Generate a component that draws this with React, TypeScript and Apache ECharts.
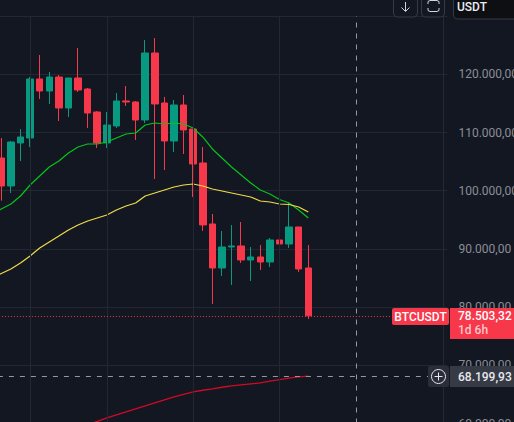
import React, { useEffect, useRef } from "react";
import * as echarts from "echarts";

const openPrices = [105621,100810,108198,109057,119193,117131,119536,114211,119365,117475,113523,108198,111118,115413,115241,112149,123660,115070,108541,114726,110603,104762,94282,86723,90330,90502,88097,88612,87753,91533,90846,93766,86723];
const closePrices = [100810,108370,109229,119193,117131,119536,114211,119365,117303,113352,108198,111290,115413,115241,112149,123660,114898,108541,114726,110431,104590,94110,86723,90330,90502,88097,88612,87753,91533,90846,93766,86551,78503.32];
const lowPrices = [98285,99608,105105,107510,115757,114898,111977,112664,116960,110775,107339,107339,110775,114554,108713,111634,102013,103559,106652,106308,98920,93079,80538,85348,83802,87582,84489,86379,86895,89300,90159,86036,77960];
const highPrices = [109057,108541,110603,119536,123316,120395,119880,119365,124519,117647,113695,113523,116788,117990,115413,125893,126237,116100,115585,116444,110603,107510,96000,93079,94110,94625,90330,90674,91876,94797,98061,93766,90674];

const maGreen = [95828,96859,97718,99092,100982,102528,104075,105105,106480,107510,108026,108026,108370,109057,109744,109916,111290,111634,111462,111634,111462,110775,109229,107167,105621,104075,102700,101326,100123,99436,98490,97890,96687,95313];
const maYellow = [85005,85778,86551,87582,88784,90159,91190,92220,93251,94110,94797,95313,95828,96687,97374,97890,99092,99608,100123,100639,100982,101154,100810,100295,99951,99608,99264,98920,98233,98061,97718,97632,97202,96343];
const maRed = ["-","-","-","-","-","-","-","-","-","-",59837,60350,60953,61468,61984,62499,63014,63530,64045,64560,64990,65419,65711,65935,66227,66450,66622,66794,66966,67275,67533,67791,68014,68134];

const categories = Array.from({ length: 48 }, (_, i) => "c" + i);
const monthLines = ["c4", "c12", "c21", "c30"];
const crosshairCategory = "c38";
const lastPrice = 78503.32;
const crosshairPrice = 68199.93;
const lastPriceText = "78.503,32";
const crosshairText = "68.199,93";
const countdownText = "1d 6h";
const symbolText = "BTCUSDT";
const quoteText = "USDT";

const FONT = "Roboto";
const UP = "#089981";
const DOWN = "#f7374a";
const BG = "#131722";
const GRID = "#232731";
const BLEED = 20;

function formatPrice(v: number) {
  if (v >= 130000) return "";
  const s = String(Math.round(v));
  return s.replace(/\B(?=(\d{3})+$)/g, ".") + ",00";
}

export default function App() {
  const ref = useRef<HTMLDivElement>(null);
  useEffect(() => {
    document.body.style.margin = "0";
    document.body.style.background = BG;
    const chart = echarts.init(ref.current!, null, { renderer: "svg" });
    const candles = [["-", "-", "-", "-"]].concat(
      openPrices.map((o, i) => [o, closePrices[i], lowPrices[i], highPrices[i]] as any)
    );
    const plainMark = { symbol: "none", silent: true, label: { show: false }, animation: false };
    chart.setOption({
      animation: false,
      backgroundColor: BG,
      grid: { left: BLEED - 13.1, top: 16.1, width: 460.5, height: 407.4 },
      xAxis: {
        type: "category",
        data: categories,
        boundaryGap: true,
        axisLine: { show: false },
        axisTick: { show: false },
        axisLabel: { show: false },
        splitLine: { show: false },
      },
      yAxis: {
        type: "value",
        position: "right",
        offset: -4,
        min: 60000,
        max: 130000,
        interval: 10000,
        axisLine: { show: true, lineStyle: { color: "#262a34", width: 1 } },
        axisTick: { show: false },
        axisLabel: {
          color: "#8b8e97",
          fontFamily: FONT,
          fontSize: 12,
          margin: 15,
          formatter: formatPrice,
        },
        splitLine: { show: true, lineStyle: { color: GRID, width: 1 } },
      },
      series: [
        {
          type: "line",
          name: "guides",
          data: [],
          z: 1,
          showSymbol: false,
          markLine: {
            ...plainMark,
            lineStyle: { color: GRID, width: 1, type: "solid" },
            data: monthLines.map((c) => ({ xAxis: c })),
          },
        },
        {
          type: "candlestick",
          data: candles,
          barWidth: 7,
          z: 3,
          itemStyle: { color: UP, color0: DOWN, borderColor: UP, borderColor0: DOWN, borderWidth: 1 },
        },
        { type: "line", data: maGreen, z: 4, showSymbol: false, lineStyle: { color: "#08c21a", width: 1.2 } },
        { type: "line", data: maYellow, z: 4, showSymbol: false, lineStyle: { color: "#f0dc46", width: 1.2 } },
        { type: "line", data: maRed, z: 4, showSymbol: false, lineStyle: { color: "#d10a26", width: 1.3 } },
        {
          type: "line",
          name: "marks",
          data: [],
          z: 5,
          showSymbol: false,
          markLine: {
            ...plainMark,
            data: [
              { yAxis: lastPrice, lineStyle: { color: "#f23645", width: 1, type: [1, 2] } },
              { yAxis: crosshairPrice, lineStyle: { color: "#9598a1", width: 1, type: [5, 6] } },
              { xAxis: crosshairCategory, lineStyle: { color: "#9598a1", width: 1, type: [5, 6] } },
            ],
          },
        },
      ],
      graphic: {
        elements: [
          {
            type: "group",
            x: BLEED,
            y: 0,
            z: 100,
            children: [
              // top-right buttons
              { type: "rect", z: 100, shape: { x: 393.5, y: -8, width: 24, height: 25, r: 4 }, style: { fill: "#131722", stroke: "#363a45", lineWidth: 1 } },
              { type: "polyline", z: 101, shape: { points: [[405.5, 2], [405.5, 11]] }, style: { stroke: "#d1d4dc", fill: "none", lineWidth: 1 } },
              { type: "polyline", z: 101, shape: { points: [[401.5, 7.5], [405.5, 11.5], [409.5, 7.5]] }, style: { stroke: "#d1d4dc", fill: "none", lineWidth: 1 } },
              { type: "rect", z: 100, shape: { x: 421.5, y: -8, width: 23, height: 25, r: 4 }, style: { fill: "#131722", stroke: "#363a45", lineWidth: 1 } },
              { type: "polyline", z: 101, shape: { points: [[428, 4], [428, 1.5], [430, 0.5], [437, 0.5], [439, 1.5], [439, 4]] }, style: { stroke: "#d1d4dc", fill: "none", lineWidth: 1 } },
              { type: "polyline", z: 101, shape: { points: [[428, 8], [428, 10.5], [430, 11.5], [437, 11.5], [439, 10.5], [439, 8]] }, style: { stroke: "#d1d4dc", fill: "none", lineWidth: 1 } },
              { type: "rect", z: 100, shape: { x: 453.5, y: -8, width: 70, height: 27, r: 4 }, style: { fill: "#0e0f12", stroke: "#363a45", lineWidth: 1 } },
              { type: "text", z: 101, x: 457, y: 7, style: { text: quoteText, fill: "#e8ecf4", font: `500 12px ${FONT}`, textVerticalAlign: "middle" } },
              // symbol and last price tags
              { type: "rect", z: 100, shape: { x: 392, y: 308, width: 57, height: 17, r: 2 }, style: { fill: DOWN } },
              { type: "text", z: 101, x: 420.5, y: 316.5, style: { text: symbolText, fill: "#ffffff", font: `500 12px ${FONT}`, textAlign: "center", textVerticalAlign: "middle" } },
              { type: "rect", z: 100, shape: { x: 450, y: 308, width: 64, height: 31, r: 0 }, style: { fill: DOWN } },
              { type: "text", z: 101, x: 458, y: 316, style: { text: lastPriceText, fill: "#ffffff", font: `500 12px ${FONT}`, textVerticalAlign: "middle" } },
              { type: "text", z: 101, x: 458, y: 330, style: { text: countdownText, fill: "#fcc5ca", font: `500 12px ${FONT}`, textVerticalAlign: "middle" } },
              // crosshair tags
              { type: "rect", z: 100, shape: { x: 428, y: 366, width: 21, height: 21, r: 2 }, style: { fill: "#2a2e39" } },
              { type: "circle", z: 101, shape: { cx: 438.5, cy: 376.5, r: 7 }, style: { fill: "none", stroke: "#e8e9ed", lineWidth: 1 } },
              { type: "line", z: 102, shape: { x1: 434.5, y1: 376.5, x2: 442.5, y2: 376.5 }, style: { stroke: "#e8e9ed", lineWidth: 1 } },
              { type: "line", z: 102, shape: { x1: 438.5, y1: 372.5, x2: 438.5, y2: 380.5 }, style: { stroke: "#e8e9ed", lineWidth: 1 } },
              { type: "rect", z: 100, shape: { x: 450, y: 366, width: 64, height: 21, r: 0 }, style: { fill: "#363a45" } },
              { type: "text", z: 101, x: 458, y: 376.5, style: { text: crosshairText, fill: "#e8e9ed", font: `500 12px ${FONT}`, textVerticalAlign: "middle" } },
            ],
          },
        ],
      },
    });
    return () => chart.dispose();
  }, []);
  return (
    <div style={{ width: 514, height: 422, overflow: "hidden", position: "relative" }}>
      <div ref={ref} style={{ position: "absolute", left: -BLEED, top: 0, width: 514 + BLEED + 20, height: 422 + 20 }} />
    </div>
  );
}
